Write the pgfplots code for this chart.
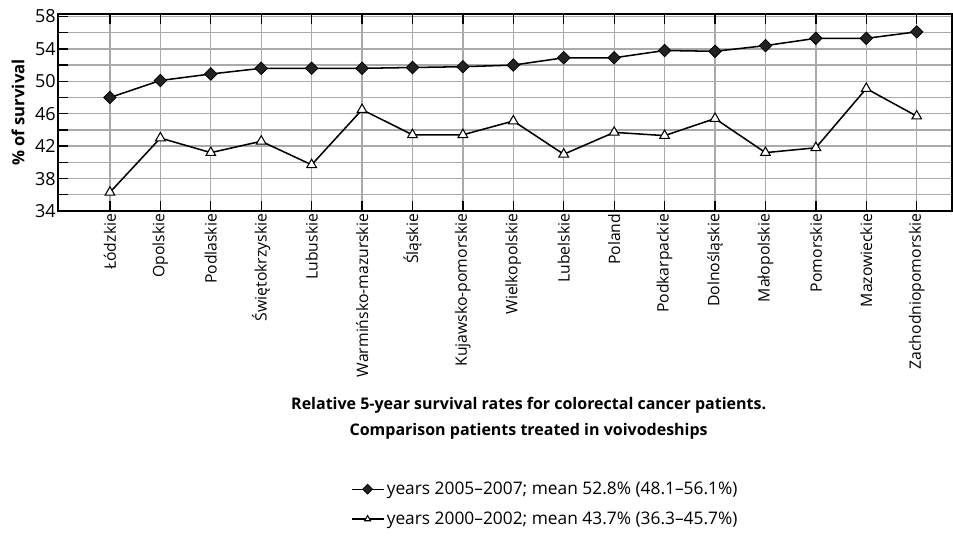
\documentclass[border=0pt]{standalone}
\usepackage{fontspec}
\setmainfont{Open Sans}
\usepackage{pgfplots}
\pgfplotsset{compat=1.18}
\definecolor{gridgray}{RGB}{170,170,170}
\definecolor{darkfill}{RGB}{34,34,34}
\begin{document}
\begin{tikzpicture}
\useasboundingbox (-43.5pt,-243.75pt) rectangle (671.25pt,158.25pt);
\begin{axis}[
  at={(0pt,0pt)}, anchor=south west,
  scale only axis,
  width=670.5pt, height=147.75pt,
  xmin=-1.03, xmax=16.7,
  ymin=34, ymax=58.3,
  xtick={0,...,16},
  xticklabels={Łódzkie,Opolskie,Podlaskie,Świętokrzyskie,Lubuskie,Warmińsko-mazurskie,Śląskie,Kujawsko-pomorskie,Wielkopolskie,Lubelskie,Poland,Podkarpackie,Dolnośląskie,Małopolskie,Pomorskie,Mazowieckie,Zachodniopomorskie},
  x tick label style={rotate=90, anchor=east, font=\fontsize{11.8}{13}\selectfont, inner sep=2pt},
  ytick={34,38,...,58},
  minor ytick={36,40,...,56},
  y tick label style={font=\fontsize{13.5}{15}\selectfont, inner sep=1.5pt},
  /pgf/number format/assume math mode=true,
  grid=both,
  grid style={gridgray, line width=1pt},
  minor grid style={gridgray, line width=1pt},
  axis line style={black, line width=0.9pt},
  xtick pos=both, ytick pos=left,
  tick align=inside,
  major tick length=7.5pt, minor tick length=7.5pt,
  tick style={black, line width=1pt},
  ylabel={\bfseries\% of survival},
  ylabel style={font=\fontsize{12.5}{14}\selectfont, at={(axis description cs:-0.0447,0.5)}, anchor=center},
  legend style={at={(axis description cs:0.3275,-1.36)}, anchor=north west, draw=none, fill=none,
    font=\fontsize{13}{15}\selectfont, row sep=7.5pt, inner sep=0pt},
  legend cell align=left,
  legend image code/.code={\draw[mark repeat=2,mark phase=2,#1,line width=0.9pt,mark size=2.6pt] plot coordinates {(0cm,0cm) (0.42cm,0cm) (0.84cm,0cm)};},
]
\addplot[black, line width=1.15pt, mark=square*, mark size=3.3pt, mark options={rotate=45, fill=darkfill, line width=0.6pt}]
coordinates {(0,48.0) (1,50.1) (2,50.9) (3,51.6) (4,51.6) (5,51.6) (6,51.7) (7,51.8) (8,52.0) (9,52.9) (10,52.9) (11,53.8) (12,53.7) (13,54.4) (14,55.3) (15,55.3) (16,56.1)};
\addlegendentry{years 2005–2007; mean 52.8\% (48.1–56.1\%)}
\addplot[black, line width=1.15pt, mark=triangle*, mark size=4.2pt, mark options={fill=white, line width=0.8pt}]
coordinates {(0,36.3) (1,43.0) (2,41.2) (3,42.6) (4,39.7) (5,46.5) (6,43.4) (7,43.4) (8,45.1) (9,41.0) (10,43.7) (11,43.3) (12,45.4) (13,41.2) (14,41.8) (15,49.1) (16,45.7)};
\addlegendentry{years 2000–2002; mean 43.7\% (36.3–45.7\%)}
\end{axis}
\node[font=\bfseries\fontsize{12}{19.5}\selectfont, align=center] at (353pt,-155.5pt)
  {Relative 5-year survival rates for colorectal cancer patients.\\Comparison patients treated in voivodeships};
\end{tikzpicture}
\end{document}
